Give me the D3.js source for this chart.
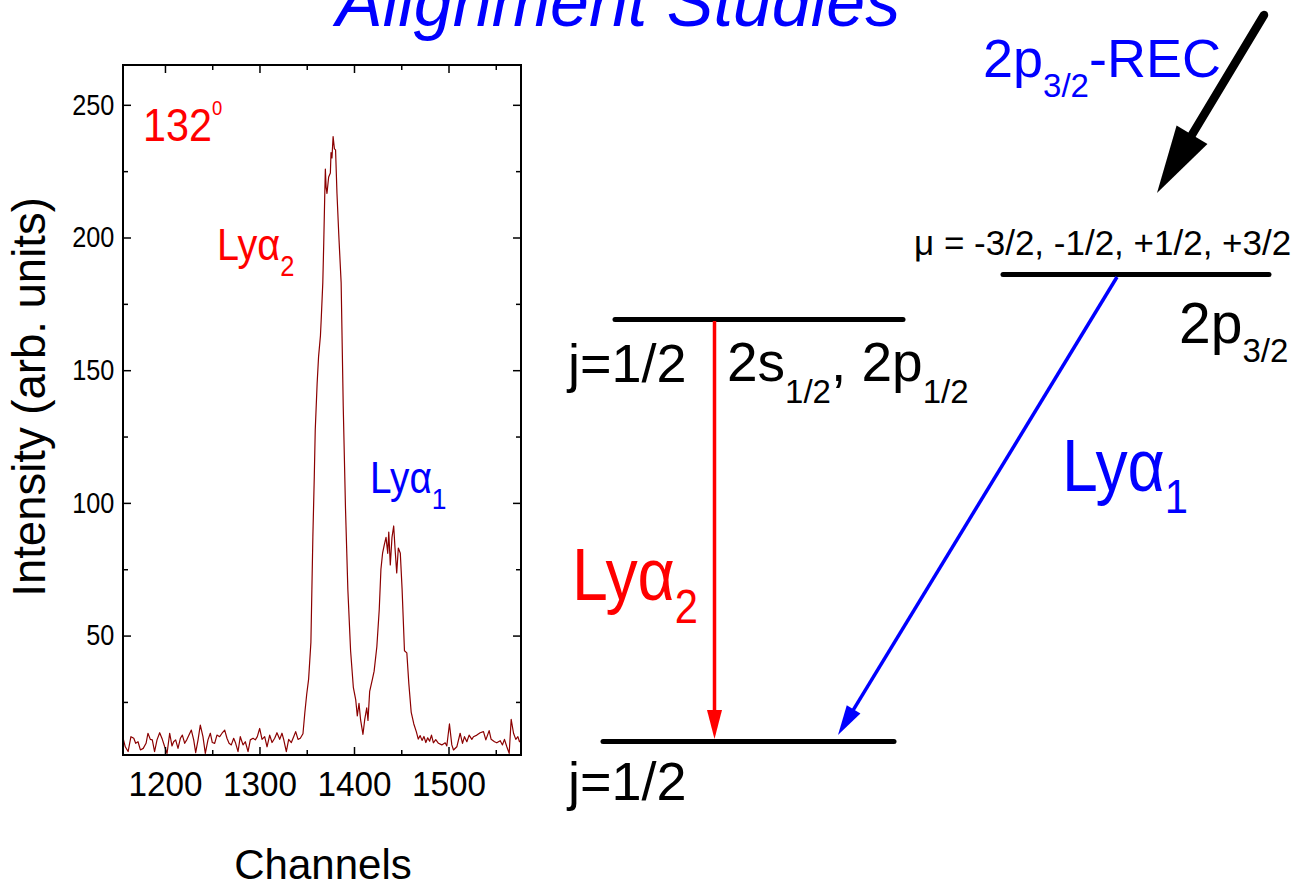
<!DOCTYPE html>
<html><head><meta charset="utf-8">
<script src="https://cdn.jsdelivr.net/npm/d3@7"></script>
<style>body{margin:0;background:#fff}text{font-family:"Liberation Sans",Arial,Helvetica,sans-serif}</style>
</head><body>
<svg id="chart" width="1305" height="887"></svg>
<script>
// ---- data (channel, intensity) ----
const spectrum = [
[1156,10.9],[1158,8.1],[1161,6.3],[1164,11.9],[1167,11.3],[1169,9.4],[1171.5,10.0],[1174,6.9],[1177,7.5],[1180,9.4],
[1182,13.2],[1184.5,10.9],[1186.6,10.7],[1189,6.3],[1191.6,10.7],[1194.4,13.4],[1197.2,10.9],[1199.7,8.1],[1202.2,5.6],[1205,13.2],
[1207.4,8.4],[1209.2,10.0],[1211.3,10.7],[1213.8,7.5],[1216.3,11.3],[1218.4,12.5],[1220.9,9.4],[1223.3,10.9],[1225.4,12.5],[1227.9,14.4],
[1230.4,10.7],[1232.5,5.9],[1235,10.7],[1237.4,16.3],[1240.2,11.9],[1242.7,5.6],[1245.5,10.7],[1248,13.2],[1250.1,9.7],[1252.6,9.4],
[1255,12.5],[1257.9,11.9],[1260.4,13.2],[1263.2,14.4],[1265.6,11.3],[1267.8,9.4],[1270.2,8.8],[1272.7,11.3],[1274.8,9.4],[1277.3,6.3],
[1279.7,11.9],[1282.6,8.8],[1285,10.0],[1287.9,6.3],[1290.3,10.7],[1293.2,11.3],[1295.6,10.7],[1297.7,11.9],[1300.2,15.0],[1302.7,10.9],
[1305.5,11.9],[1308,8.1],[1310.8,12.5],[1313.3,9.7],[1316.1,11.3],[1318.5,13.4],[1321.4,10.9],[1323.8,13.2],[1325.6,10.9],[1328.4,6.3],
[1330.9,10.9],[1333.7,9.7],[1336.2,11.9],[1338.3,13.8],[1340.8,10.9],[1343.2,11.3],[1346,13],[1348,21],[1350,28],[1352,33.6],
[1354.4,47.4],[1356.5,87.5],[1358,110],[1359,127.5],[1361,145],[1362.5,155],[1364.5,163],[1365.3,169],[1367,183],[1368,198],
[1369,215],[1369.7,225.8],[1370.5,219],[1371.4,216.6],[1373.2,222.8],[1375,224.3],[1375.7,232],[1376.7,230],[1377.9,238],[1379.3,233.4],
[1380.5,233],[1382,216.6],[1383.9,201],[1386.4,183],[1388.6,136.6],[1391,98],[1393.5,67.4],[1396.4,44.3],[1399.3,30.5],[1401.8,25.9],
[1403.5,19.7],[1405.3,24.5],[1407,18.2],[1409.5,12.8],[1411.3,18.2],[1413.5,22.8],[1414.8,18],[1416.6,29],[1419.5,33.6],[1421.3,36.6],
[1424.2,45.9],[1426.7,59.7],[1428.5,75],[1430.3,81.2],[1432.1,84.3],[1433.9,87],[1435.7,81],[1436.8,89],[1438.4,76.6],[1440.2,87],
[1442,91.3],[1443.4,83],[1445.2,73.6],[1446.9,83],[1449,81],[1450.9,67.4],[1453.4,44.3],[1455.9,43.5],[1458,32],[1460.5,21.2],
[1463.3,16.7],[1466,13.7],[1468,11],[1470,12.3],[1472,10.5],[1474,12],[1476,9.7],[1478,11.5],[1480,10.2],[1482,12.5],
[1484,9.6],[1486.5,10.8],[1489.4,9.4],[1492.9,8.8],[1496.5,9.6],[1498.2,8.4],[1501,16.7],[1503.5,8.8],[1505.3,6.9],[1508.8,8.1],
[1512.3,13.2],[1514.8,9.4],[1516.9,11.9],[1519.4,10.0],[1521.8,12.5],[1524.7,10.9],[1526.4,11.9],[1530,12.5],[1533.5,13.4],[1537,13.8],
[1539.5,10.7],[1543,14.2],[1545.1,10.9],[1548.7,10.0],[1551.1,9.6],[1554.7,10.4],[1557.1,8.8],[1559.2,10.9],[1561.7,8.1],[1564.2,5.6],
[1566.3,18.4],[1568.8,13.2],[1571.2,10.9],[1573.4,11.9],[1575.1,10.0],[1577,10.5]
];
const xDomain = [1155.6, 1576.7];
const yDomain = [5, 265];
const xMajorTicks = [1200, 1300, 1400, 1500];
const xMinorTicks = [1250, 1350, 1450, 1550];
const yMajorTicks = [50, 100, 150, 200, 250];
const yMinorTicks = [25, 75, 125, 175, 225];

const svg = d3.select("#chart");
svg.append("rect").attr("width",1305).attr("height",887).attr("fill","#fff");

const BLUE = "#0000ff", RED = "#ff0000";

// rich text helper: parts = [text, size, baselineShift]
function rich(parent, x, y, parts, o) {
  const t = parent.append("text")
    .attr("transform", `translate(${x},${y}) scale(${o.sx || 1},1)`)
    .attr("font-size", o.size).attr("fill", o.fill || "#000")
    .attr("text-anchor", o.anchor || "start");
  if (o.italic) t.attr("font-style", "italic");
  let cur = 0;
  parts.forEach(p => {
    const shift = p[2] || 0;
    t.append("tspan").attr("font-size", p[1] || o.size).attr("dy", shift - cur).text(p[0]);
    cur = shift;
  });
  return t;
}

// ---------------- left spectrum plot ----------------
const L = 123, R = 521, T = 65, B = 755;
const x = d3.scaleLinear().domain(xDomain).range([L, R]);
const y = d3.scaleLinear().domain(yDomain).range([B, T]);

svg.append("defs").append("clipPath").attr("id","clip")
  .append("rect").attr("x",L).attr("y",T).attr("width",R-L).attr("height",B-T);

svg.append("path").datum(spectrum)
  .attr("clip-path","url(#clip)")
  .attr("fill","none").attr("stroke","#8b0000").attr("stroke-width",1.2)
  .attr("stroke-linejoin","round")
  .attr("d", d3.line().x(d => x(d[0])).y(d => y(d[1])));

function styleAxis(g) {
  g.select(".domain").remove();
  g.selectAll(".tick line").attr("stroke","#000").attr("stroke-width",1.5);
}
// bottom
svg.append("g").attr("transform",`translate(0,${B})`)
  .call(d3.axisBottom(x).tickValues(xMajorTicks).tickSize(-8).tickPadding(16).tickFormat(d3.format("d")))
  .call(styleAxis)
  .call(g => g.selectAll("text").attr("font-size",35).attr("fill","#000")
      .attr("font-family","Liberation Sans, Arial, sans-serif").attr("transform","scale(0.95,1)"));
svg.append("g").attr("transform",`translate(0,${B})`)
  .call(d3.axisBottom(x).tickValues(xMinorTicks).tickSize(-5).tickFormat(""))
  .call(styleAxis);
// top
svg.append("g").attr("transform",`translate(0,${T})`)
  .call(d3.axisTop(x).tickValues(xMajorTicks).tickSize(-8).tickFormat(""))
  .call(styleAxis);
svg.append("g").attr("transform",`translate(0,${T})`)
  .call(d3.axisTop(x).tickValues(xMinorTicks).tickSize(-5).tickFormat(""))
  .call(styleAxis);
// left
svg.append("g").attr("transform",`translate(${L},0)`)
  .call(d3.axisLeft(y).tickValues(yMajorTicks).tickSize(-8).tickPadding(10).tickFormat(d3.format("d")))
  .call(styleAxis)
  .call(g => g.selectAll("text").attr("font-size",29).attr("fill","#000")
      .attr("font-family","Liberation Sans, Arial, sans-serif").attr("transform","scale(0.87,1)"));
svg.append("g").attr("transform",`translate(${L},0)`)
  .call(d3.axisLeft(y).tickValues(yMinorTicks).tickSize(-5).tickFormat(""))
  .call(styleAxis);
// right
svg.append("g").attr("transform",`translate(${R},0)`)
  .call(d3.axisRight(y).tickValues(yMajorTicks).tickSize(-8).tickFormat(""))
  .call(styleAxis);
svg.append("g").attr("transform",`translate(${R},0)`)
  .call(d3.axisRight(y).tickValues(yMinorTicks).tickSize(-5).tickFormat(""))
  .call(styleAxis);

svg.append("rect").attr("x",L).attr("y",T).attr("width",R-L).attr("height",B-T)
  .attr("fill","none").attr("stroke","#000").attr("stroke-width",2);

// axis titles
svg.append("text").attr("transform",`translate(${(L+R)/2+1},879)`)
  .attr("text-anchor","middle").attr("font-size",42).attr("fill","#000").text("Channels");
svg.append("text").attr("transform",`translate(45,${397})rotate(-90)`)
  .attr("text-anchor","middle").attr("font-size",45.5).attr("fill","#000").text("Intensity (arb. units)");

// in-plot labels
rich(svg, 143, 141, [["132"],["0",21,-26]], {size:47, fill:RED, sx:0.88});
rich(svg, 217, 260, [["Lyα"],["2",29,16]], {size:45, fill:RED, sx:0.88});
rich(svg, 370, 493, [["Lyα"],["1",30,16]], {size:44, fill:BLUE, sx:0.88});

// ---------------- title ----------------
rich(svg, 336, 26, [["Alignment Studies"]], {size:70, fill:BLUE, italic:true});

// ---------------- level diagram ----------------
function level(x1, x2, yy) {
  svg.append("line").attr("x1",x1).attr("x2",x2).attr("y1",yy).attr("y2",yy)
    .attr("stroke","#000").attr("stroke-width",5).attr("stroke-linecap","round");
}
level(615, 903, 319.5);
level(603, 894, 741.5);
level(1003, 1269, 274.5);

function arrow(x1, y1, x2, y2, color, w, headLen, headW, cap) {
  const dx = x2 - x1, dy = y2 - y1, len = Math.hypot(dx, dy);
  const ux = dx / len, uy = dy / len, px = -uy, py = ux;
  const bx = x2 - ux * headLen, by = y2 - uy * headLen;
  svg.append("line").attr("x1",x1).attr("y1",y1).attr("x2",bx + ux*2).attr("y2",by + uy*2)
    .attr("stroke",color).attr("stroke-width",w).attr("stroke-linecap",cap || "butt");
  svg.append("polygon")
    .attr("points", [[x2,y2],[bx+px*headW/2, by+py*headW/2],[bx-px*headW/2, by-py*headW/2]].map(p=>p.join(",")).join(" "))
    .attr("fill", color);
}
arrow(714.5, 321, 714.5, 739, RED, 3.5, 29, 15);
arrow(1117, 277, 838, 735, BLUE, 3.5, 30, 16);
arrow(1264, 15, 1157, 193, "#000", 8.5, 68, 36, "round");

rich(svg, 983, 77, [["2p"],["3/2",33,20],["-REC",null,0]], {size:54, fill:BLUE});
rich(svg, 914, 255, [["μ = -3/2, -1/2, +1/2, +3/2"]], {size:35});
rich(svg, 1179, 343, [["2p"],["3/2",33,19]], {size:57});
rich(svg, 568, 382, [["j=1/2"]], {size:54});
rich(svg, 727, 381, [["2s"],["1/2",33,22],[", 2p",null,0],["1/2",33,22]], {size:55});
rich(svg, 568, 800, [["j=1/2"]], {size:54});
rich(svg, 572, 600, [["Lyα"],["2",48,23]], {size:74, fill:RED, sx:0.87});
rich(svg, 1062, 491, [["Lyα"],["1",48,22]], {size:74, fill:BLUE, sx:0.87});
</script>
</body></html>
